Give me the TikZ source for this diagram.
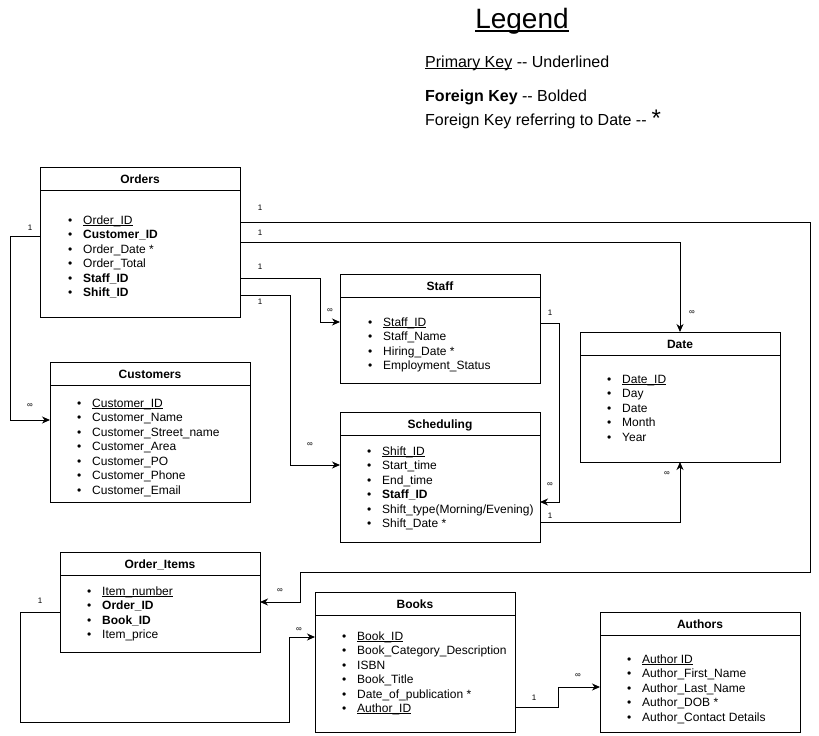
\documentclass[tikz,border=0pt]{standalone}
\usepackage{fontspec}
\setmainfont{Liberation Sans}
\usetikzlibrary{arrows.meta,calc}

% underline for key fields, scaled with the font size
\newcommand{\keyline}[1]{\setbox0\hbox{#1}\rlap{\rule[-0.15em]{\wd0}{0.07em}}\copy0\relax}
\newcommand{\itemsize}{\fontsize{12}{14.5}\selectfont}
% bulleted field list: #1 name prefix, #2 x, #3 first baseline, #4 fields
\newcommand{\fieldlist}[4]{%
  \foreach \txt [count=\k from 0] in {#4} {
    \node[anchor=base west, inner sep=0pt, font=\itemsize] (#1-\k) at (#2, #3+14.5*\k)
      {\makebox[15pt][l]{\textbullet}\txt};
  }}

\begin{document}
\begin{tikzpicture}[x=1pt, y=-1pt,
  tbl/.style={draw, line width=1pt, anchor=north west, minimum width=200pt,
              inner sep=0pt, outer sep=0pt},
  ttl/.style={anchor=base, inner sep=0pt, font=\bfseries\fontsize{12}{14}\selectfont},
  conn/.style={line width=1pt, -{Stealth[length=8pt,width=7pt,inset=2.5pt]}},
  plain/.style={line width=1pt},
  card/.style={inner sep=0pt, font=\fontsize{8}{9}\selectfont},
  legendtxt/.style={anchor=base west, inner sep=0pt, font=\fontsize{16}{19}\selectfont},
]
\useasboundingbox (0,0) rectangle (819,736);

% ---------- legend ----------
\node[anchor=base, inner sep=0pt, font=\fontsize{28}{32}\selectfont] (legend) at (522,28) {\keyline{Legend}};
\node[legendtxt] (legPK) at (425,67) {\keyline{Primary Key} -{}- Underlined};
\node[legendtxt] (legFK) at (425,101) {\textbf{Foreign Key} -{}- Bolded};
\node[legendtxt] (legDate) at (425,125) {Foreign Key referring to Date -{}-\hspace{5pt}\raisebox{-1pt}{\fontsize{24}{24}\selectfont *}};

% ---------- tables ----------
\node[tbl, minimum height=150pt] (orders) at (40,167) {};
\node[tbl, minimum height=109pt] (staff) at (340,274) {};
\node[tbl, minimum height=130pt] (date) at (580,332) {};
\node[tbl, minimum height=140pt] (customers) at (50,362) {};
\node[tbl, minimum height=130pt] (sched) at (340,412) {};
\node[tbl, minimum height=100pt] (oitems) at (60,552) {};
\node[tbl, minimum height=140pt] (books) at (315,592) {};
\node[tbl, minimum height=120pt] (authors) at (600,612) {};

\foreach \n/\t in {orders/Orders, staff/Staff, date/Date, customers/Customers,
                   sched/Scheduling, oitems/Order\_Items, books/Books, authors/Authors} {
  \draw[plain] ([yshift=-23pt]\n.north west) -- ([yshift=-23pt]\n.north east);
  \node[ttl] (\n-title) at ($(\n.north)+(0,16)$) {\t};
}

% ---------- fields ----------
\fieldlist{ordersF}{68}{224}{{\keyline{Order\_ID}}, {\textbf{Customer\_ID}}, {Order\_Date *},
  {Order\_Total}, {\textbf{Staff\_ID}}, {\textbf{Shift\_ID}}}
\fieldlist{staffF}{368}{326}{{\keyline{Staff\_ID}}, {Staff\_Name}, {Hiring\_Date *}, {Employment\_Status}}
\fieldlist{dateF}{607}{383}{{\keyline{Date\_ID}}, {Day}, {Date}, {Month}, {Year}}
\fieldlist{customersF}{77}{407}{{\keyline{Customer\_ID}}, {Customer\_Name}, {Customer\_Street\_name},
  {Customer\_Area}, {Customer\_PO}, {Customer\_Phone}, {Customer\_Email}}
\fieldlist{schedF}{367}{455}{{\keyline{Shift\_ID}}, {Start\_time}, {End\_time}, {\textbf{Staff\_ID}},
  {Shift\_type(Morning/Evening)}, {Shift\_Date *}}
\fieldlist{oitemsF}{87}{595}{{\keyline{Item\_number}}, {\textbf{Order\_ID}}, {\textbf{Book\_ID}}, {Item\_price}}
\fieldlist{booksF}{342}{640}{{\keyline{Book\_ID}}, {Book\_Category\_Description}, {ISBN}, {Book\_Title},
  {Date\_of\_publication *}, {\keyline{Author\_ID}}}
\fieldlist{authorsF}{627}{663}{{\keyline{Author ID}}, {Author\_First\_Name}, {Author\_Last\_Name},
  {Author\_DOB *}, {Author\_Contact Details}}

% ---------- relationships ----------
% Orders -> Customers
\draw[conn] ([yshift=-69pt]orders.north west) -- ++(-30,0) |- ([yshift=-58pt]customers.north west);
\node[card] (c1a) at (30,228) {1};
\node[card] (c1b) at (30,406) {∞};

% Orders -> Order_Items
\draw[conn] ([yshift=-55pt]orders.north east) -- ++(570,0) -- ++(0,350) -- ++(-510,0)
  |- ([yshift=-50pt]oitems.north east);
\node[card] (c2a) at (260,208) {1};
\node[card] (c2b) at (280,591) {∞};

% Orders -> Date
\draw[conn] ([yshift=-75pt]orders.north east) -| (date.north);
\node[card] (c3a) at (260,233) {1};
\node[card] (c3b) at (692,313) {∞};

% Orders -> Staff
\draw[conn] ([yshift=-111pt]orders.north east) -- ++(80,0) |- ([yshift=-48pt]staff.north west);
\node[card] (c4a) at (260,267) {1};
\node[card] (c4b) at (330,311) {∞};

% Orders -> Scheduling
\draw[conn] ([yshift=-128pt]orders.north east) -- ++(50,0) |- ([yshift=-53pt]sched.north west);
\node[card] (c5a) at (260,302) {1};
\node[card] (c5b) at (310,445) {∞};

% Staff -> Scheduling
\draw[conn] ([yshift=-49pt]staff.north east) -- ++(19,0) |- ([yshift=-90pt]sched.north east);
\node[card] (c6a) at (550,313) {1};
\node[card] (c6b) at (550,485) {∞};

% Scheduling -> Date
\draw[conn] ([yshift=-110pt]sched.north east) -| (date.south);
\node[card] (c7a) at (550,516) {1};
\node[card] (c7b) at (667,474) {∞};

% Order_Items -> Books
\draw[conn] ([yshift=-60pt]oitems.north west) -- ++(-40,0) -- ++(0,110) -| ++(269,-85)
  -- ([yshift=-45pt]books.north west);
\node[card] (c8a) at (40,601) {1};
\node[card] (c8b) at (299,630) {∞};

% Books -> Authors
\draw[conn] ([yshift=-115pt]books.north east) -- ++(43,0) |- ([yshift=-75pt]authors.north west);
\node[card] (c9a) at (534,698) {1};
\node[card] (c9b) at (578,676) {∞};
\end{tikzpicture}
\end{document}
